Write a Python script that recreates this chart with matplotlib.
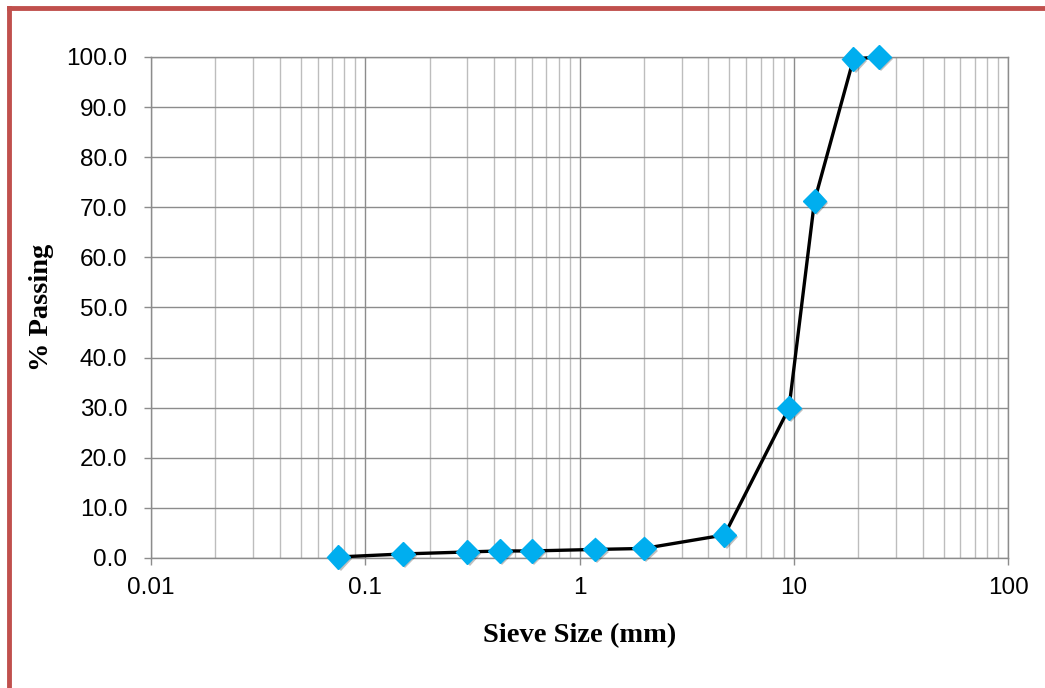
import numpy as np
import matplotlib
matplotlib.use("Agg")
import matplotlib.pyplot as plt
import matplotlib.patheffects as pe
from matplotlib.ticker import LogLocator, FixedLocator, FuncFormatter
from matplotlib.lines import Line2D

# SIEVE ANALYSIS DATA
sieve_mm = [0.075, 0.15, 0.3, 0.425, 0.6, 1.18, 2.0, 4.75, 9.5, 12.5, 19.0, 25.0]
passing = [0.2, 0.8, 1.2, 1.4, 1.4, 1.7, 1.9, 4.6, 29.9, 71.3, 99.6, 100.0]

x_ticks = [0.01, 0.1, 1, 10, 100]
x_tick_labels = ["0.01", "0.1", "1", "10", "100"]
y_ticks = [0, 10, 20, 30, 40, 50, 60, 70, 80, 90, 100]

MAJOR_GRAY = "#8c8c8c"
MINOR_GRAY = "#bdbdbd"
BLUE = "#00aeef"

fig = plt.figure(figsize=(10.45, 6.88), dpi=100)
ax = fig.add_axes([0.1445, 0.189, 0.8201, 0.7282])

# CURVE
ax.plot(sieve_mm, passing, color="black", linewidth=2.4, zorder=3, clip_on=False)

# MARKERS WITH SOFT SHADOW
ax.plot(
    sieve_mm, passing,
    linestyle="none",
    marker="D",
    markersize=12,
    markerfacecolor=BLUE,
    markeredgecolor=BLUE,
    zorder=4,
    clip_on=False,
    path_effects=[
        pe.SimplePatchShadow(offset=(1.5, -1.5), shadow_rgbFace="#000000", alpha=0.25),
        pe.Normal()
    ]
)

# AXES SCALES
ax.set_xscale("log")
ax.set_xlim(0.01, 100)
ax.set_ylim(0, 100)

ax.xaxis.set_major_locator(FixedLocator(x_ticks))
ax.xaxis.set_major_formatter(FuncFormatter(lambda v, p: x_tick_labels[x_ticks.index(v)] if v in x_ticks else ""))
ax.xaxis.set_minor_locator(LogLocator(base=10, subs=np.arange(2, 10)))
ax.xaxis.set_minor_formatter(FuncFormatter(lambda v, p: ""))

ax.set_yticks(y_ticks)
ax.set_yticklabels(["%.1f" % v for v in y_ticks])

# GRID LINES
ax.grid(which="major", axis="both", color=MAJOR_GRAY, linewidth=1.0)
ax.grid(which="minor", axis="x", color=MINOR_GRAY, linewidth=1.0)
ax.set_axisbelow(True)

for side in ["left", "right", "top", "bottom"]:
    ax.spines[side].set_color(MAJOR_GRAY)
    ax.spines[side].set_linewidth(1.0)

# TICKS
ax.tick_params(which="major", direction="out", length=5, width=1.0,
               color=MAJOR_GRAY, labelsize=17.5, labelcolor="black")
ax.tick_params(axis="x", which="major", pad=9)
ax.tick_params(axis="y", which="major", pad=12)
ax.tick_params(which="minor", length=0)

for lbl in ax.get_xticklabels() + ax.get_yticklabels():
    lbl.set_fontfamily("Liberation Sans")

# LABELS
ax.set_xlabel("Sieve Size (mm)", fontsize=20.5, fontweight="bold",
              family="Liberation Serif", labelpad=17)
ax.set_ylabel("% Passing", fontsize=20.5, fontweight="bold",
              family="Liberation Serif", labelpad=9)

# OUTER FRAME
frame_color = "#c0504d"
fig.add_artist(Line2D([9 / 1045, 9 / 1045], [0, 1 - 8 / 688],
                      transform=fig.transFigure, color=frame_color, linewidth=3.5,
                      solid_capstyle="projecting"))
fig.add_artist(Line2D([9 / 1045, 1], [1 - 8 / 688, 1 - 8 / 688],
                      transform=fig.transFigure, color=frame_color, linewidth=3.5,
                      solid_capstyle="projecting"))

fig.savefig("out.png", dpi=100)
plt.close(fig)
